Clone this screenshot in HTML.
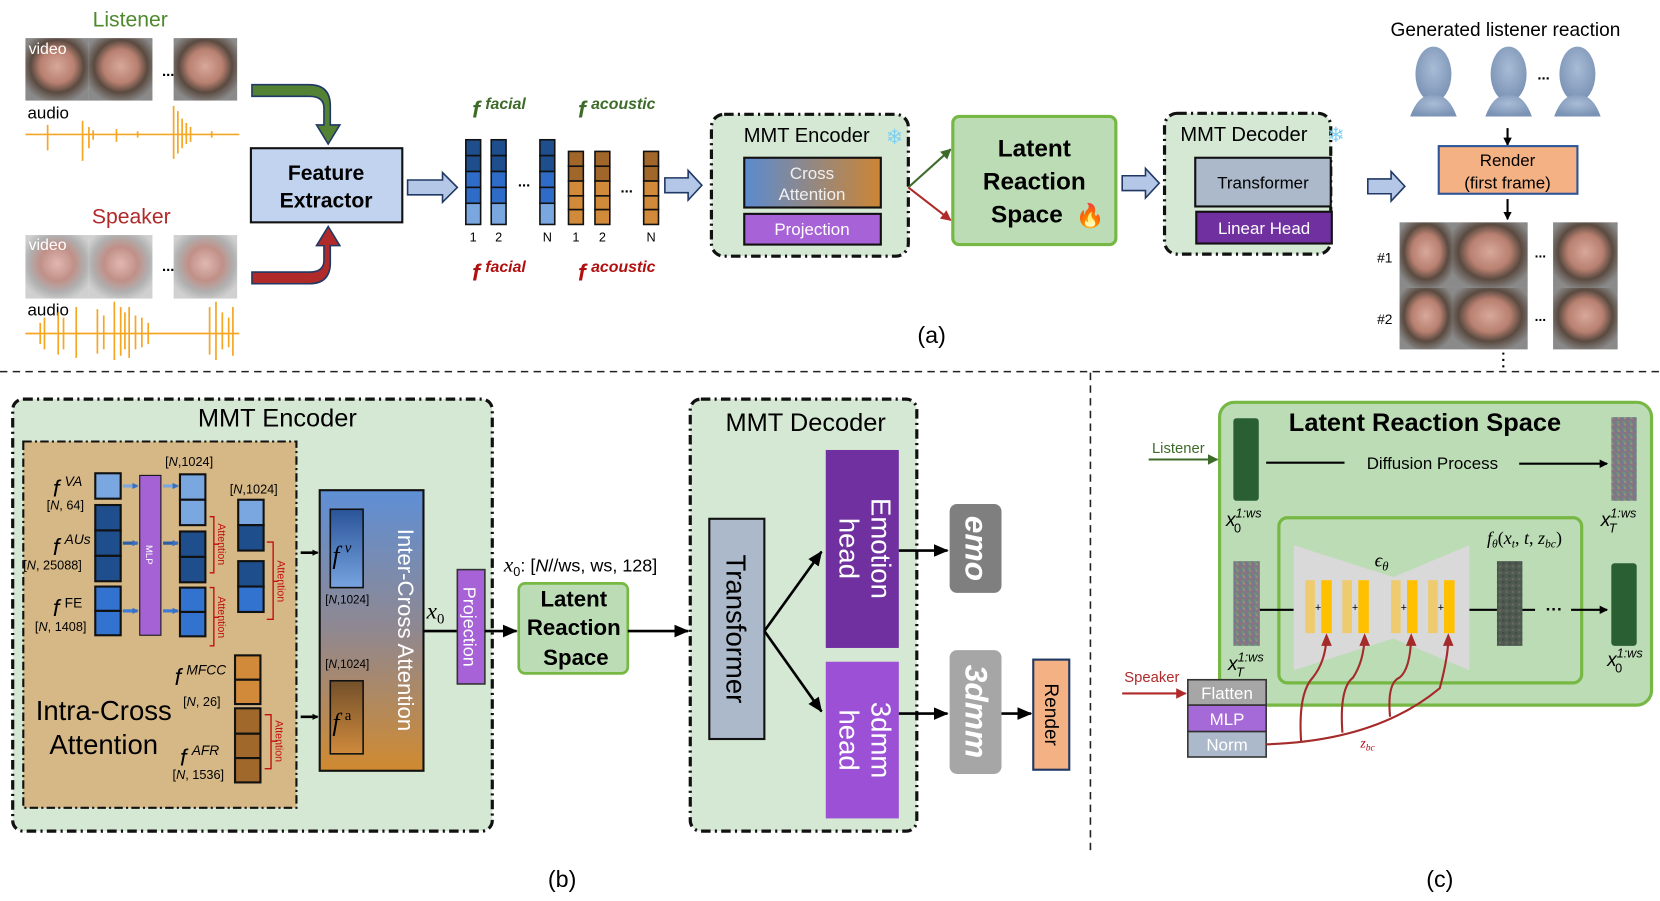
<!DOCTYPE html>
<html><head><meta charset="utf-8"><style>
html,body{margin:0;padding:0;background:#fff;width:1660px;height:901px;overflow:hidden}
svg{display:block}
text{font-family:"Liberation Sans",sans-serif}
.s{font-family:"Liberation Serif",serif;font-style:italic}
</style></head><body>
<svg width="1660" height="901" viewBox="0 0 1568 851" preserveAspectRatio="none" xmlns="http://www.w3.org/2000/svg">
<defs>
<linearGradient id="ca" x1="0" x2="1"><stop offset="0" stop-color="#5b8bd0"/><stop offset="1" stop-color="#cc8534"/></linearGradient>
<linearGradient id="ic" x1="0" y1="0" x2="0" y2="1"><stop offset="0" stop-color="#5e8fd6"/><stop offset="0.5" stop-color="#908890"/><stop offset="1" stop-color="#d08a30"/></linearGradient>
<linearGradient id="fv" x1="0" y1="0" x2="0" y2="1"><stop offset="0" stop-color="#2a5498"/><stop offset="1" stop-color="#78a3e0"/></linearGradient>
<linearGradient id="fa" x1="0" y1="0" x2="0" y2="1"><stop offset="0" stop-color="#73502a"/><stop offset="1" stop-color="#cf8a3c"/></linearGradient>
<radialGradient id="face" cx="0.5" cy="0.45" r="0.6"><stop offset="0" stop-color="#d8a89a"/><stop offset="0.45" stop-color="#b88070"/><stop offset="0.7" stop-color="#5a4a40"/><stop offset="1" stop-color="#8a8a8a"/></radialGradient>
<radialGradient id="face2" cx="0.5" cy="0.45" r="0.6"><stop offset="0" stop-color="#e0b8b0"/><stop offset="0.45" stop-color="#c09088"/><stop offset="0.75" stop-color="#b0b0b0"/><stop offset="1" stop-color="#d0d0d0"/></radialGradient>
<radialGradient id="bust" cx="0.5" cy="0.4" r="0.6"><stop offset="0" stop-color="#a8bcd6"/><stop offset="1" stop-color="#7a92b4"/></radialGradient>
<pattern id="noise" width="6" height="6" patternUnits="userSpaceOnUse"><rect width="6" height="6" fill="#7a7a80"/><rect x="0" y="0" width="2" height="2" fill="#9a6a8a"/><rect x="3" y="2" width="2" height="2" fill="#6a9a7a"/><rect x="1" y="4" width="2" height="2" fill="#6a7aa0"/><rect x="4" y="4" width="2" height="2" fill="#a09070"/></pattern>
<pattern id="noise2" width="6" height="6" patternUnits="userSpaceOnUse"><rect width="6" height="6" fill="#4f5a50"/><rect x="0" y="0" width="2" height="2" fill="#6a6a60"/><rect x="3" y="3" width="2" height="2" fill="#3e4a42"/></pattern>
<marker id="ah" markerWidth="8" markerHeight="8" refX="7" refY="4" orient="auto" markerUnits="userSpaceOnUse"><path d="M0,0 L8,4 L0,8 z" fill="#000"/></marker>
<marker id="ahl" markerWidth="14" markerHeight="12" refX="13" refY="6" orient="auto" markerUnits="userSpaceOnUse"><path d="M0,0 L14,6 L0,12 z" fill="#000"/></marker>
<marker id="ahg" markerWidth="10" markerHeight="10" refX="9" refY="5" orient="auto" markerUnits="userSpaceOnUse"><path d="M0,0 L10,5 L0,10 z" fill="#3d6b2a"/></marker>
<marker id="ahr" markerWidth="10" markerHeight="10" refX="9" refY="5" orient="auto" markerUnits="userSpaceOnUse"><path d="M0,0 L10,5 L0,10 z" fill="#b02a2a"/></marker>
<marker id="ahs" markerWidth="6" markerHeight="6" refX="5" refY="3" orient="auto" markerUnits="userSpaceOnUse"><path d="M0,0 L6,3 L0,6 z" fill="#000"/></marker>
<marker id="ahb" markerWidth="6" markerHeight="6" refX="5" refY="3" orient="auto" markerUnits="userSpaceOnUse"><path d="M0,0 L6,3 L0,6 z" fill="#3a6fc0"/></marker>
</defs>

<!-- ===== (a) ===== -->
<text x="123" y="25" font-size="20" fill="#4e8a2e" text-anchor="middle">Listener</text>
<rect x="24" y="36" width="60" height="59" fill="url(#face)"/><rect x="84" y="36" width="60" height="59" fill="url(#face)"/><rect x="164" y="36" width="60" height="59" fill="url(#face)"/>
<text x="27" y="51" font-size="15" fill="#fff">video</text>
<text x="153" y="72" font-size="14" font-weight="bold">...</text>
<text x="26" y="112" font-size="16">audio</text>
<path d="M24,127 H226 M45,118 V142 M78,114 V152 M84,120 V140 M88,123 V132 M110,122 V134 M164,100 V150 M168,105 V145 M172,112 V140 M176,116 V136 M180,120 V134 M130,124 V130 M200,124 V130" stroke="#f5a623" stroke-width="1.6" fill="none"/>
<text x="124" y="211" font-size="20" fill="#b02a2a" text-anchor="middle">Speaker</text>
<rect x="24" y="222" width="60" height="60" fill="url(#face2)"/><rect x="84" y="222" width="60" height="60" fill="url(#face2)"/><rect x="164" y="222" width="60" height="60" fill="url(#face2)"/>
<text x="27" y="236" font-size="15" fill="#fff">video</text>
<text x="153" y="256" font-size="14" font-weight="bold">...</text>
<text x="26" y="298" font-size="16">audio</text>
<path d="M24,315 H226 M38,305 V325 M42,300 V330 M55,295 V335 M60,300 V330 M72,290 V338 M92,292 V334 M98,298 V330 M108,285 V340 M114,290 V336 M118,295 V330 M122,290 V338 M128,298 V330 M134,300 V328 M140,305 V325 M198,290 V335 M204,285 V340 M210,295 V330 M216,300 V328 M220,290 V336" stroke="#f5a623" stroke-width="1.6" fill="none"/>
<path d="M238,80 H292 Q312,80 312,100 V118 H321 L310,136 L299,118 H306 V102 Q306,91 292,91 H238 Z" fill="#548235" stroke="#1f3864" stroke-width="1.5"/>
<path d="M238,268 H292 Q312,268 312,248 V232 H321 L310,214 L299,232 H306 V246 Q306,257 292,257 H238 Z" fill="#b02a2a" stroke="#1f3864" stroke-width="1.5"/>
<rect x="237" y="140" width="143" height="70" fill="#c2d3f0" stroke="#111" stroke-width="2"/>
<text x="308" y="170" font-size="20" font-weight="bold" text-anchor="middle">Feature</text>
<text x="308" y="196" font-size="20" font-weight="bold" text-anchor="middle">Extractor</text>
<path d="M385,170 H418 V163 L432,177 L418,191 V184 H385 Z" fill="#b4c7e7" stroke="#1f3864" stroke-width="1.5"/>
<g stroke="#111" stroke-width="1.5">
<g fill="#1f4e8c"><rect x="440" y="132" width="14" height="15"/><rect x="440" y="147" width="14" height="15"/><rect x="464" y="132" width="14" height="15"/><rect x="464" y="147" width="14" height="15"/><rect x="510" y="132" width="14" height="15"/><rect x="510" y="147" width="14" height="15"/></g>
<g fill="#2f6cc8"><rect x="440" y="162" width="14" height="15"/><rect x="440" y="177" width="14" height="15"/><rect x="464" y="162" width="14" height="15"/><rect x="464" y="177" width="14" height="15"/><rect x="510" y="162" width="14" height="15"/><rect x="510" y="177" width="14" height="15"/></g>
<g fill="#7aa7e0"><rect x="440" y="192" width="14" height="20"/><rect x="464" y="192" width="14" height="20"/><rect x="510" y="192" width="14" height="20"/></g>
<g fill="#a0662a"><rect x="537" y="143" width="14" height="14"/><rect x="537" y="157" width="14" height="14"/><rect x="562" y="143" width="14" height="14"/><rect x="562" y="157" width="14" height="14"/><rect x="608" y="143" width="14" height="14"/><rect x="608" y="157" width="14" height="14"/></g>
<g fill="#d08a3a"><rect x="537" y="171" width="14" height="14"/><rect x="537" y="185" width="14" height="13"/><rect x="537" y="198" width="14" height="14"/><rect x="562" y="171" width="14" height="14"/><rect x="562" y="185" width="14" height="13"/><rect x="562" y="198" width="14" height="14"/><rect x="608" y="171" width="14" height="14"/><rect x="608" y="185" width="14" height="13"/><rect x="608" y="198" width="14" height="14"/></g>
</g>
<g font-size="12" text-anchor="middle"><text x="447" y="228">1</text><text x="471" y="228">2</text><text x="517" y="228">N</text><text x="544" y="228">1</text><text x="569" y="228">2</text><text x="615" y="228">N</text></g>
<text x="495" y="176" font-size="14" font-weight="bold" text-anchor="middle">...</text>
<text x="592" y="182" font-size="14" font-weight="bold" text-anchor="middle">...</text>
<g class="s" font-weight="bold"><text x="446" y="111" font-size="22" fill="#3d6b2a">f<tspan font-size="15" dx="5" dy="-8">facial</tspan></text>
<text x="546" y="111" font-size="22" fill="#3d6b2a">f<tspan font-size="15" dx="5" dy="-8">acoustic</tspan></text>
<text x="446" y="265" font-size="22" fill="#b01010">f<tspan font-size="15" dx="5" dy="-8">facial</tspan></text>
<text x="546" y="265" font-size="22" fill="#b01010">f<tspan font-size="15" dx="5" dy="-8">acoustic</tspan></text></g>
<path d="M628,168 H650 V161 L663,175 L650,189 V182 H628 Z" fill="#b4c7e7" stroke="#1f3864" stroke-width="1.5"/>
<rect x="672" y="108" width="186" height="134" rx="12" fill="#d5e8d4" stroke="#111" stroke-width="3" stroke-dasharray="9 4 2 4"/>
<text x="762" y="134" font-size="19" text-anchor="middle">MMT Encoder</text>
<text x="845" y="136" font-size="20" fill="#7fd0f0" text-anchor="middle">❄</text>
<rect x="703" y="149" width="129" height="47" fill="url(#ca)" stroke="#111" stroke-width="2"/>
<text x="767" y="169" font-size="16" fill="#f0f0f0" text-anchor="middle">Cross</text>
<text x="767" y="189" font-size="16" fill="#f0f0f0" text-anchor="middle">Attention</text>
<rect x="703" y="202" width="129" height="29" fill="#a862d8" stroke="#111" stroke-width="2"/>
<text x="767" y="222" font-size="16" fill="#fff" text-anchor="middle">Projection</text>
<line x1="858" y1="177" x2="898" y2="141" stroke="#3d6b2a" stroke-width="2" marker-end="url(#ahg)"/>
<line x1="858" y1="177" x2="898" y2="208" stroke="#b02a2a" stroke-width="2" marker-end="url(#ahr)"/>
<rect x="900" y="110" width="154" height="121" rx="6" fill="#bcdcb6" stroke="#76b843" stroke-width="3"/>
<g font-size="23" font-weight="bold" text-anchor="middle"><text x="977" y="148">Latent</text><text x="977" y="179">Reaction</text><text x="970" y="210">Space</text></g>
<text x="1030" y="211" font-size="22" fill="#f08020" text-anchor="middle">🔥</text>
<path d="M1060,166 H1082 V159 L1095,173 L1082,187 V180 H1060 Z" fill="#b4c7e7" stroke="#1f3864" stroke-width="1.5"/>
<rect x="1100" y="107" width="157" height="133" rx="12" fill="#d5e8d4" stroke="#111" stroke-width="3" stroke-dasharray="9 4 2 4"/>
<text x="1175" y="133" font-size="19" text-anchor="middle">MMT Decoder</text>
<text x="1262" y="134" font-size="20" fill="#7fd0f0" text-anchor="middle">❄</text>
<rect x="1129" y="149" width="128" height="46" fill="#acb9ca" stroke="#111" stroke-width="2"/>
<text x="1193" y="178" font-size="16" text-anchor="middle">Transformer</text>
<rect x="1130" y="200" width="128" height="30" fill="#7030a0" stroke="#111" stroke-width="2"/>
<text x="1194" y="221" font-size="16" fill="#fff" text-anchor="middle">Linear Head</text>
<path d="M1292,169 H1314 V162 L1327,176 L1314,190 V183 H1292 Z" fill="#b4c7e7" stroke="#1f3864" stroke-width="1.5"/>
<text x="1422" y="34" font-size="18" text-anchor="middle">Generated listener reaction</text>
<g fill="url(#bust)"><ellipse cx="1354" cy="70" rx="17" ry="26"/><path d="M1332,110 Q1340,88 1354,90 Q1368,88 1376,110 Z"/>
<ellipse cx="1425" cy="70" rx="17" ry="26"/><path d="M1403,110 Q1411,88 1425,90 Q1439,88 1447,110 Z"/>
<ellipse cx="1490" cy="70" rx="17" ry="26"/><path d="M1468,110 Q1476,88 1490,90 Q1504,88 1512,110 Z"/></g>
<text x="1458" y="75" font-size="14" font-weight="bold" text-anchor="middle">...</text>
<line x1="1424" y1="121" x2="1424" y2="137" stroke="#000" stroke-width="2" marker-end="url(#ah)"/>
<rect x="1359" y="138" width="131" height="45" fill="#f4b183" stroke="#2f5597" stroke-width="2"/>
<text x="1424" y="157" font-size="16" text-anchor="middle">Render</text>
<text x="1424" y="178" font-size="16" text-anchor="middle">(first frame)</text>
<line x1="1424" y1="188" x2="1424" y2="207" stroke="#000" stroke-width="2" marker-end="url(#ah)"/>
<g fill="url(#face)"><rect x="1322" y="210" width="50" height="62"/><rect x="1372" y="210" width="71" height="62"/><rect x="1467" y="210" width="61" height="62"/><rect x="1322" y="272" width="50" height="58"/><rect x="1372" y="272" width="71" height="58"/><rect x="1467" y="272" width="61" height="58"/></g>
<text x="1308" y="248" font-size="13" text-anchor="middle">#1</text>
<text x="1308" y="306" font-size="13" text-anchor="middle">#2</text>
<text x="1455" y="243" font-size="13" font-weight="bold" text-anchor="middle">...</text>
<text x="1455" y="303" font-size="13" font-weight="bold" text-anchor="middle">...</text>
<line x1="1420" y1="333" x2="1420" y2="349" stroke="#000" stroke-width="2" stroke-dasharray="2 4"/>
<text x="880" y="324" font-size="22" text-anchor="middle">(a)</text>

<line x1="0" y1="351" x2="1568" y2="351" stroke="#222" stroke-width="1.5" stroke-dasharray="7 5"/>
<line x1="1030" y1="352" x2="1030" y2="805" stroke="#222" stroke-width="1.5" stroke-dasharray="7 5"/>

<!-- ===== (b) ===== -->
<rect x="12" y="377" width="453" height="408" rx="10" fill="#d5e8d4" stroke="#111" stroke-width="3" stroke-dasharray="9 4 2 4"/>
<text x="262" y="403" font-size="24" text-anchor="middle">MMT Encoder</text>
<rect x="22" y="417" width="258" height="346" fill="#d6b886" stroke="#111" stroke-width="2" stroke-dasharray="8 3 2 3"/>
<g stroke="#111" stroke-width="2">
<rect x="90" y="447" width="24" height="24" fill="#7aa7e0"/>
<rect x="90" y="477" width="24" height="24" fill="#1f4e8c"/><rect x="90" y="501" width="24" height="24" fill="#1f4e8c"/><rect x="90" y="525" width="24" height="24" fill="#1f4e8c"/>
<rect x="90" y="554" width="24" height="23" fill="#3373d0"/><rect x="90" y="577" width="24" height="23" fill="#3373d0"/>
<rect x="132" y="449" width="20" height="151" fill="#a462d4" stroke-width="1"/>
<rect x="170" y="448" width="24" height="24" fill="#7aa7e0"/><rect x="170" y="472" width="24" height="24" fill="#7aa7e0"/>
<rect x="170" y="502" width="24" height="24" fill="#1f4e8c"/><rect x="170" y="526" width="24" height="24" fill="#1f4e8c"/>
<rect x="170" y="555" width="24" height="23" fill="#3373d0"/><rect x="170" y="578" width="24" height="23" fill="#3373d0"/>
<rect x="225" y="472" width="24" height="24" fill="#7aa7e0"/><rect x="225" y="496" width="24" height="24" fill="#1f4e8c"/>
<rect x="225" y="530" width="24" height="24" fill="#1f4e8c"/><rect x="225" y="554" width="24" height="24" fill="#3373d0"/>
<rect x="222" y="619" width="24" height="23" fill="#d08a3a"/><rect x="222" y="642" width="24" height="23" fill="#d08a3a"/>
<rect x="222" y="669" width="24" height="24" fill="#a0682a"/><rect x="222" y="693" width="24" height="23" fill="#a0682a"/><rect x="222" y="716" width="24" height="23" fill="#a0682a"/>
</g>
<text transform="translate(138,524) rotate(90)" font-size="9" fill="#fff" text-anchor="middle">MLP</text>
<g stroke-width="3" fill="none">
<line x1="116" y1="459" x2="130" y2="459" stroke="#7aa7e0" marker-end="url(#ahb)"/>
<line x1="154" y1="459" x2="168" y2="459" stroke="#7aa7e0" marker-end="url(#ahb)"/>
<line x1="116" y1="513" x2="130" y2="513" stroke="#2a5ea8" marker-end="url(#ahb)"/>
<line x1="154" y1="513" x2="168" y2="513" stroke="#2a5ea8" marker-end="url(#ahb)"/>
<line x1="116" y1="577" x2="130" y2="577" stroke="#3a7ad8" marker-end="url(#ahb)"/>
<line x1="154" y1="577" x2="168" y2="577" stroke="#3a7ad8" marker-end="url(#ahb)"/>
</g>
<g fill="none" stroke="#c01010" stroke-width="1.3">
<path d="M198,488 H202 V541 H198 M202,514 H207"/>
<path d="M198,555 H202 V610 H198 M202,583 H207"/>
<path d="M252,512 H258 V585 H252 M258,549 H263"/>
<path d="M250,675 H256 V726 H250 M256,700 H262"/>
<path d="M346,545 H353 V670 H346 M353,607 H360"/>
</g>
<g fill="#c01010" font-size="10"><text transform="translate(206,514) rotate(90)" text-anchor="middle">Attention</text>
<text transform="translate(206,583) rotate(90)" text-anchor="middle">Attention</text>
<text transform="translate(262,549) rotate(90)" text-anchor="middle">Attention</text>
<text transform="translate(260,700) rotate(90)" text-anchor="middle">Attention</text></g>
<g class="s"><text x="50" y="469" font-size="22">f<tspan font-size="13" dx="5" dy="-10">VA</tspan></text>
<text x="50" y="524" font-size="22">f<tspan font-size="13" dx="5" dy="-10">AUs</tspan></text>
<text x="50" y="582" font-size="22">f<tspan font-size="13" dx="5" dy="-8" font-style="normal">FE</tspan></text>
<text x="165" y="647" font-size="22">f<tspan font-size="13" dx="5" dy="-10">MFCC</tspan></text>
<text x="170" y="723" font-size="22">f<tspan font-size="13" dx="5" dy="-10">AFR</tspan></text></g>
<g font-size="12" font-family="Liberation Serif,serif"><text x="44" y="481">[<tspan font-style="italic">N</tspan>, 64]</text>
<text x="22" y="538">[<tspan font-style="italic">N</tspan>, 25088]</text>
<text x="33" y="596">[<tspan font-style="italic">N</tspan>, 1408]</text>
<text x="173" y="667">[<tspan font-style="italic">N</tspan>, 26]</text>
<text x="163" y="736">[<tspan font-style="italic">N</tspan>, 1536]</text>
<text x="156" y="440">[<tspan font-style="italic">N</tspan>,1024]</text>
<text x="217" y="466">[<tspan font-style="italic">N</tspan>,1024]</text></g>
<text x="98" y="680" font-size="26" text-anchor="middle">Intra-Cross</text>
<text x="98" y="712" font-size="26" text-anchor="middle">Attention</text>
<line x1="284" y1="522" x2="300" y2="522" stroke="#000" stroke-width="2.5" marker-end="url(#ahs)"/>
<line x1="284" y1="677" x2="300" y2="677" stroke="#000" stroke-width="2.5" marker-end="url(#ahs)"/>
<rect x="302" y="463" width="98" height="265" fill="url(#ic)" stroke="#111" stroke-width="2"/>
<rect x="312" y="481" width="31" height="74" fill="url(#fv)" stroke="#111" stroke-width="1.5"/>
<rect x="312" y="643" width="31" height="69" fill="url(#fa)" stroke="#111" stroke-width="1.5"/>
<text x="314" y="532" font-size="24" class="s">f<tspan font-size="14" dx="5" dy="-10">v</tspan></text>
<text x="314" y="690" font-size="24" class="s">f<tspan font-size="14" dx="5" dy="-10" font-style="normal">a</tspan></text>
<text x="328" y="570" font-size="11" font-family="Liberation Serif,serif" text-anchor="middle">[<tspan font-style="italic">N</tspan>,1024]</text>
<text x="328" y="631" font-size="11" font-family="Liberation Serif,serif" text-anchor="middle">[<tspan font-style="italic">N</tspan>,1024]</text>
<text transform="translate(376,595) rotate(90)" font-size="21" fill="#fff" text-anchor="middle">Inter-Cross Attention</text>
<text x="403" y="584" font-size="22" class="s">x<tspan font-size="14" dy="5" font-style="normal">0</tspan></text>
<line x1="400" y1="596" x2="432" y2="596" stroke="#000" stroke-width="2.5"/>
<rect x="432" y="538" width="26" height="108" fill="#a862d8" stroke="#333" stroke-width="1.5"/>
<text transform="translate(438,592) rotate(90)" font-size="17" fill="#fff" text-anchor="middle">Projection</text>
<line x1="458" y1="596" x2="488" y2="596" stroke="#000" stroke-width="2.5" marker-end="url(#ahl)"/>
<text x="476" y="540" font-size="17"><tspan class="s" font-size="20">x</tspan><tspan font-size="12" dy="4">0</tspan><tspan dy="-4">: [</tspan><tspan font-style="italic">N</tspan>//ws, ws, 128]</text>
<rect x="490" y="551" width="103" height="85" rx="6" fill="#bcdcb6" stroke="#76b843" stroke-width="2.5"/>
<g font-size="21" font-weight="bold" text-anchor="middle"><text x="542" y="573">Latent</text><text x="542" y="600">Reaction</text><text x="544" y="628">Space</text></g>
<line x1="593" y1="596" x2="650" y2="596" stroke="#000" stroke-width="2.5" marker-end="url(#ahl)"/>
<rect x="652" y="377" width="214" height="408" rx="10" fill="#d5e8d4" stroke="#111" stroke-width="3" stroke-dasharray="9 4 2 4"/>
<text x="761" y="407" font-size="24" text-anchor="middle">MMT Decoder</text>
<rect x="670" y="490" width="52" height="208" fill="#acb9ca" stroke="#111" stroke-width="2"/>
<text transform="translate(686,594) rotate(90)" font-size="26" text-anchor="middle">Transformer</text>
<line x1="722" y1="596" x2="776" y2="521" stroke="#000" stroke-width="2.5" marker-end="url(#ahl)"/>
<line x1="722" y1="596" x2="776" y2="672" stroke="#000" stroke-width="2.5" marker-end="url(#ahl)"/>
<rect x="780" y="425" width="69" height="187" fill="#7030a0"/>
<text transform="translate(823,518) rotate(90)" font-size="26" fill="#fff" text-anchor="middle">Emotion</text>
<text transform="translate(793,518) rotate(90)" font-size="26" fill="#fff" text-anchor="middle">head</text>
<rect x="780" y="625" width="69" height="148" fill="#9b50d6"/>
<text transform="translate(823,699) rotate(90)" font-size="26" fill="#fff" text-anchor="middle">3dmm</text>
<text transform="translate(793,699) rotate(90)" font-size="26" fill="#fff" text-anchor="middle">head</text>
<line x1="849" y1="520" x2="895" y2="520" stroke="#000" stroke-width="2.5" marker-end="url(#ahl)"/>
<line x1="849" y1="674" x2="895" y2="674" stroke="#000" stroke-width="2.5" marker-end="url(#ahl)"/>
<rect x="897" y="476" width="49" height="84" rx="7" fill="#7f7f7f"/>
<text transform="translate(912,518) rotate(90)" font-size="30" fill="#fff" font-weight="bold" font-family="Liberation Serif,serif" font-style="italic" text-anchor="middle">emo</text>
<rect x="897" y="614" width="49" height="117" rx="7" fill="#a6a6a6"/>
<text transform="translate(912,672) rotate(90)" font-size="30" fill="#fff" font-weight="bold" font-family="Liberation Serif,serif" font-style="italic" text-anchor="middle">3dmm</text>
<line x1="946" y1="674" x2="974" y2="674" stroke="#000" stroke-width="2.5" marker-end="url(#ahl)"/>
<rect x="976" y="623" width="34" height="104" fill="#f4b183" stroke="#1f3864" stroke-width="2"/>
<text transform="translate(987,675) rotate(90)" font-size="18" text-anchor="middle">Render</text>
<text x="531" y="838" font-size="22" text-anchor="middle">(b)</text>

<!-- ===== (c) ===== -->
<rect x="1152" y="380" width="408" height="286" rx="14" fill="#bcdcb6" stroke="#76b843" stroke-width="3"/>
<text x="1346" y="407" font-size="24" font-weight="bold" text-anchor="middle">Latent Reaction Space</text>
<text x="1113" y="428" font-size="14" fill="#3d6b2a" text-anchor="middle">Listener</text>
<line x1="1085" y1="434" x2="1150" y2="434" stroke="#3d6b2a" stroke-width="2" marker-end="url(#ahg)"/>
<rect x="1165" y="395" width="24" height="78" rx="3" fill="#2a5f34"/>
<line x1="1196" y1="437" x2="1270" y2="437" stroke="#000" stroke-width="2"/>
<text x="1353" y="443" font-size="16" text-anchor="middle">Diffusion Process</text>
<line x1="1435" y1="438" x2="1518" y2="438" stroke="#000" stroke-width="2" marker-end="url(#ah)"/>
<rect x="1522" y="394" width="24" height="79" fill="url(#noise)"/>
<g class="s" font-size="18"><text x="1158" y="497">x<tspan font-size="12" dy="-8" >1:ws</tspan><tspan font-size="12" dx="-26" dy="14" font-style="normal">0</tspan></text>
<text x="1512" y="497">x<tspan font-size="12" dy="-8">1:ws</tspan><tspan font-size="12" dx="-26" dy="14">T</tspan></text>
<text x="1160" y="633">x<tspan font-size="12" dy="-8">1:ws</tspan><tspan font-size="12" dx="-26" dy="14">T</tspan></text>
<text x="1407" y="633">x<tspan font-size="12" dy="-8">1:ws</tspan><tspan font-size="12" dx="-26" dy="14">T−1</tspan></text>
<text x="1518" y="629">x<tspan font-size="12" dy="-8">1:ws</tspan><tspan font-size="12" dx="-26" dy="14" font-style="normal">0</tspan></text></g>
<rect x="1208" y="489" width="286" height="156" rx="8" fill="#bcdcb6" stroke="#76b843" stroke-width="3"/>
<text x="1440" y="514" font-size="17" text-anchor="middle" class="s">f<tspan font-size="11" dy="3">θ</tspan><tspan dy="-3" font-style="normal">(</tspan>x<tspan font-size="11" dy="3">t</tspan><tspan dy="-3" font-style="normal">, </tspan>t<tspan font-style="normal">, </tspan>z<tspan font-size="11" dy="3">bc</tspan><tspan dy="-3" font-style="normal">)</tspan></text>
<rect x="1165" y="530" width="25" height="80" fill="url(#noise)"/>
<line x1="1190" y1="576" x2="1222" y2="576" stroke="#000" stroke-width="2"/>
<polygon points="1222,515 1316,545 1388,515 1388,633 1316,603 1222,633" fill="#d9d9d9"/>
<text x="1305" y="535" font-size="18" class="s" text-anchor="middle">ϵ<tspan font-size="12" dy="4">θ</tspan></text>
<g fill="#eecb6e"><rect x="1233" y="548" width="9" height="50"/><rect x="1268" y="548" width="9" height="50"/><rect x="1314" y="548" width="9" height="50"/><rect x="1349" y="548" width="9" height="50"/></g>
<g fill="#ffc000"><rect x="1248" y="548" width="10" height="50"/><rect x="1283" y="548" width="10" height="50"/><rect x="1329" y="548" width="10" height="50"/><rect x="1364" y="548" width="10" height="50"/></g>
<g font-size="10" text-anchor="middle"><text x="1245" y="577">+</text><text x="1280" y="577">+</text><text x="1326" y="577">+</text><text x="1361" y="577">+</text></g>
<line x1="1388" y1="576" x2="1414" y2="576" stroke="#000" stroke-width="2"/>
<rect x="1414" y="530" width="24" height="80" fill="url(#noise2)"/>
<line x1="1438" y1="576" x2="1450" y2="576" stroke="#000" stroke-width="2"/>
<text x="1468" y="581" font-size="16" font-weight="bold" text-anchor="middle">···</text>
<line x1="1484" y1="576" x2="1518" y2="576" stroke="#000" stroke-width="2" marker-end="url(#ah)"/>
<rect x="1522" y="532" width="24" height="78" rx="3" fill="#2a5f34"/>
<text x="1088" y="644" font-size="14" fill="#b02a2a" text-anchor="middle">Speaker</text>
<line x1="1060" y1="655" x2="1120" y2="655" stroke="#b02a2a" stroke-width="2" marker-end="url(#ahr)"/>
<rect x="1122" y="642" width="74" height="24" fill="#a6a6a6" stroke="#333" stroke-width="1.5"/>
<rect x="1122" y="666" width="74" height="25" fill="#a66ad8" stroke="#333" stroke-width="1.5"/>
<rect x="1122" y="691" width="74" height="24" fill="#acb9ca" stroke="#333" stroke-width="1.5"/>
<g font-size="16" fill="#fff" text-anchor="middle"><text x="1159" y="660">Flatten</text><text x="1159" y="685">MLP</text><text x="1159" y="709">Norm</text></g>
<g fill="none" stroke="#a52a2a" stroke-width="2">
<path d="M1196,703 Q1300,700 1360,650 Q1368,620 1368,603"/>
<path d="M1229,700 Q1226,655 1240,640 Q1252,625 1253,602"/>
<path d="M1268,692 Q1265,650 1278,640 Q1288,625 1289,602"/>
<path d="M1313,677 Q1310,645 1322,640 Q1332,632 1333,602"/>
</g>
<g fill="#a52a2a"><path d="M1253,598 L1248,610 L1258,610 Z"/><path d="M1289,598 L1284,610 L1294,610 Z"/><path d="M1333,598 L1328,610 L1338,610 Z"/><path d="M1368,598 L1363,610 L1373,610 Z"/></g>
<text x="1285" y="706" font-size="13" fill="#b01010" class="s">z<tspan font-size="9" dy="3">bc</tspan></text>
<text x="1360" y="838" font-size="22" text-anchor="middle">(c)</text>
</svg>
</body></html>
